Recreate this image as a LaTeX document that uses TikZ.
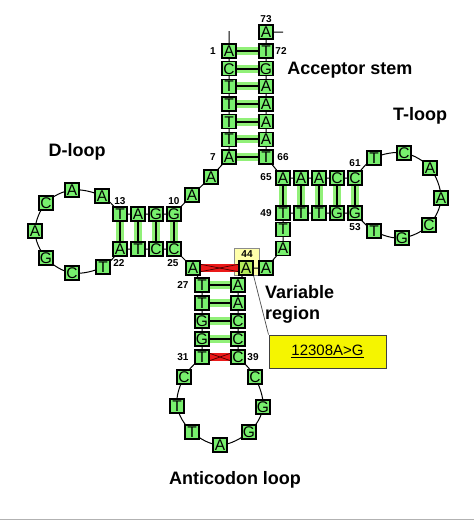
\documentclass[tikz,border=0pt]{standalone}
\usepackage{fontspec}
\setmainfont{Liberation Sans}
\usetikzlibrary{backgrounds,calc}
\definecolor{boxgreen}{RGB}{120,240,110}
\definecolor{halo}{RGB}{145,240,120}
\definecolor{bondred}{RGB}{235,25,25}
\definecolor{hlyellow}{RGB}{255,255,170}
\definecolor{lblyellow}{RGB}{245,245,0}
\definecolor{selgreen}{RGB}{180,235,90}
\tikzset{
  nt/.style={draw=black, line width=1.1pt, fill=boxgreen, minimum size=14pt, inner sep=0pt,
             font=\fontsize{15.5}{15.5}\selectfont},
  num/.style={font=\bfseries\fontsize{10}{10}\selectfont, inner sep=0pt},
  title/.style={font=\bfseries\fontsize{18}{21}\selectfont, inner sep=0pt},
  bb/.style={line width=1pt, black},
  lp/.style={line width=1pt, black, smooth, tension=0.6},
  gband/.style={line width=8pt, halo},
  gline/.style={line width=1.8pt, black},
  rband/.style={line width=7.5pt, bondred},
  xline/.style={line width=0.7pt, black!70!red},
}
\begin{document}
\begin{tikzpicture}[x=1pt,y=-1pt]
\useasboundingbox (0,0) rectangle (474,520);
\begin{pgfonlayer}{background}
  \fill[white] (0,0) rectangle (474,520);
  \draw[gray!60, line width=1pt] (0,519.5) -- (474,519.5);
\end{pgfonlayer}

% acceptor stem, 5' strand
\node[nt] (a1) at (229,51) {A};
\node[nt] (a2) at (229,68.7) {C};
\node[nt] (a3) at (229,86.3) {T};
\node[nt] (a4) at (229,104) {T};
\node[nt] (a5) at (229,121.7) {T};
\node[nt] (a6) at (229,139.3) {T};
\node[nt] (a7) at (229,157) {A};
\node[nt] (a8) at (211,177) {A};
\node[nt] (a9) at (192,195) {A};
% D stem
\node[nt] (a10) at (174,214) {G};
\node[nt] (a11) at (156,214) {G};
\node[nt] (a12) at (138,214) {A};
\node[nt] (a13) at (120,214) {T};
% D loop
\node[nt] (d14) at (102,196) {A};
\node[nt] (d15) at (72,190) {A};
\node[nt] (d16) at (46,203) {C};
\node[nt] (d17) at (35,231) {A};
\node[nt] (d18) at (46,258) {G};
\node[nt] (d19) at (72,273) {C};
\node[nt] (d20) at (103,267) {T};
\node[nt] (a22) at (120,249) {A};
\node[nt] (a23) at (138,249) {T};
\node[nt] (a24) at (156,249) {C};
\node[nt] (a25) at (174,249) {C};
\node[nt] (a26) at (193,268) {A};
% anticodon stem
\node[nt] (a27) at (202,285) {T};
\node[nt] (a28) at (202,303) {T};
\node[nt] (a29) at (202,321) {G};
\node[nt] (a30) at (202,339) {G};
\node[nt] (a31) at (202,357) {T};
% anticodon loop
\node[nt] (c32) at (184,377) {C};
\node[nt] (c33) at (177,406) {T};
\node[nt] (c34) at (192,432) {T};
\node[nt] (c35) at (220,445) {A};
\node[nt] (c36) at (249,432) {G};
\node[nt] (c37) at (263,407) {G};
\node[nt] (c38) at (255,377) {C};
\node[nt] (a39) at (238,357) {C};
\node[nt] (a40) at (238,339) {C};
\node[nt] (a41) at (238,321) {C};
\node[nt] (a42) at (238,303) {A};
\node[nt] (a43) at (238,285) {A};
% variable region
\node[nt, fill=selgreen] (a44) at (246,268) {A};
\node[nt] (a45) at (266,268) {A};
\node[nt] (a46) at (283,248.5) {A};
\node[nt] (a47) at (283,229.5) {T};
% T stem
\node[nt] (a49) at (283,213) {T};
\node[nt] (a50) at (301,213) {T};
\node[nt] (a51) at (319,213) {T};
\node[nt] (a52) at (337,213) {G};
\node[nt] (a53) at (355,213) {G};
% T loop
\node[nt] (t54) at (374,231) {T};
\node[nt] (t55) at (402,238) {G};
\node[nt] (t56) at (429,225) {C};
\node[nt] (t57) at (441,198) {A};
\node[nt] (t58) at (430,168) {A};
\node[nt] (t59) at (404,153) {C};
\node[nt] (t60) at (374,158) {T};
\node[nt] (a61) at (355,178) {C};
\node[nt] (a62) at (337,178) {C};
\node[nt] (a63) at (319,178) {A};
\node[nt] (a64) at (301,178) {A};
\node[nt] (a65) at (283,178) {A};
% acceptor stem, 3' strand
\node[nt] (a66) at (266,157) {T};
\node[nt] (a67) at (266,139.3) {A};
\node[nt] (a68) at (266,121.7) {A};
\node[nt] (a69) at (266,104) {A};
\node[nt] (a70) at (266,86.3) {A};
\node[nt] (a71) at (266,68.7) {G};
\node[nt] (a72) at (266,51) {T};
\node[nt] (a73) at (266,32) {A};
\coordinate (p5) at (229,31);
\coordinate (p3) at (283,32);

% position numbers
\node[num] at (266,19) {73};
\node[num] at (213,51) {1};
\node[num] at (281,51) {72};
\node[num] at (213,157) {7};
\node[num] at (283,157) {66};
\node[num] at (266,177) {65};
\node[num] at (355,163) {61};
\node[num] at (266,213) {49};
\node[num] at (355,227) {53};
\node[num] at (120,201) {13};
\node[num] at (174,201) {10};
\node[num] at (119,263) {22};
\node[num] at (173,263) {25};
\node[num] at (183,285) {27};
\node[num] at (183,357) {31};
\node[num] at (253,357) {39};

% titles
\node[title] at (350,70) {Acceptor stem};
\node[title] at (420,116) {T-loop};
\node[title] at (77,152) {D-loop};
\node[title] at (235,480) {Anticodon loop};
\node[title, anchor=west, align=left] at (265,304) {Variable\\region};

% mutation label
\node[draw=black!75, line width=1pt, fill=lblyellow, minimum width=117pt, minimum height=33pt,
      inner sep=0pt, font=\fontsize{15}{15}\selectfont] (mut) at (327.5,351.5) {\underline{12308A>G}};

\begin{pgfonlayer}{background}
  % highlight of position 44
  \draw[fill=hlyellow, draw=black!45, line width=0.7pt] (234,248) rectangle (259,275);
  \node[num] (n44) at (247,254.5) {44};
  % backbone
  \draw[bb] (p5) -- (a1.center) -- (a2.center) -- (a3.center) -- (a4.center) -- (a5.center)
     -- (a6.center) -- (a7.center) -- (a8.center) -- (a9.center) -- (a10.center)
     -- (a11.center) -- (a12.center) -- (a13.center);
  \draw[lp] plot coordinates {(a13.center) (d14.center) (d15.center) (d16.center) (d17.center)
     (d18.center) (d19.center) (d20.center) (a22.center)};
  \draw[bb] (a22.center) -- (a23.center) -- (a24.center) -- (a25.center) -- (a26.center)
     -- (a27.center) -- (a28.center) -- (a29.center) -- (a30.center) -- (a31.center);
  \draw[lp] plot coordinates {(a31.center) (c32.center) (c33.center) (c34.center) (c35.center)
     (c36.center) (c37.center) (c38.center) (a39.center)};
  \draw[bb] (a39.center) -- (a40.center) -- (a41.center) -- (a42.center) -- (a43.center)
     -- (a44.center) -- (a45.center) -- (a46.center) -- (a47.center) -- (a49.center)
     -- (a50.center) -- (a51.center) -- (a52.center) -- (a53.center);
  \draw[lp] plot coordinates {(a53.center) (t54.center) (t55.center) (t56.center) (t57.center)
     (t58.center) (t59.center) (t60.center) (a61.center)};
  \draw[bb] (a61.center) -- (a62.center) -- (a63.center) -- (a64.center) -- (a65.center)
     -- (a66.center) -- (a67.center) -- (a68.center) -- (a69.center) -- (a70.center)
     -- (a71.center) -- (a72.center) -- (a73.center) -- (p3);
  % green base pairs
  \foreach \u/\v in {a1/a72,a2/a71,a3/a70,a4/a69,a5/a68,a6/a67,a7/a66,a27/a43,a28/a42,a29/a41,a30/a40}
    {\draw[gband] (\u.east) -- (\v.west); \draw[gline, yshift=0.8pt] (\u.east) -- (\v.west);}
  \foreach \u/\v in {a10/a25,a11/a24,a12/a23,a13/a22,a49/a65,a50/a64,a51/a63,a52/a62,a53/a61}
    {\draw[gband] (\u.south) -- (\v.north); \draw[gline, xshift=-0.8pt] (\u.south) -- (\v.north);}
  % red mismatches
  \draw[rband] (a26.east) -- (a44.west);
  \draw[xline] ($(a26.east)+(0,-3.7)$) -- ($(a44.west)+(0,3.7)$);
  \draw[xline] ($(a26.east)+(0,3.7)$) -- ($(a44.west)+(0,-3.7)$);
  \draw[rband] (a31.east) -- (a39.west);
  \draw[xline] ($(a31.east)+(0,-3.7)$) -- ($(a39.west)+(0,3.7)$);
  \draw[xline] ($(a31.east)+(0,3.7)$) -- ($(a39.west)+(0,-3.7)$);
  % pointer to mutation label
  \draw[line width=0.7pt, black!70] (a44.south east) -- (mut.north west);
\end{pgfonlayer}
\end{tikzpicture}
\end{document}
